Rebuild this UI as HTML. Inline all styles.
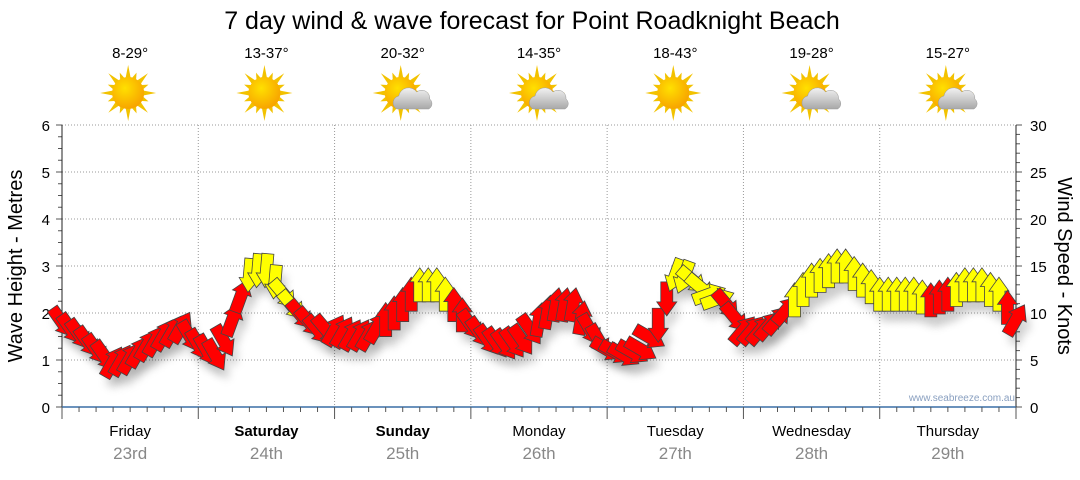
<!DOCTYPE html>
<html><head><meta charset="utf-8"><style>
body{margin:0;background:#fff;font-family:"Liberation Sans",sans-serif}
svg text{font-family:"Liberation Sans",sans-serif}
</style></head><body>
<svg id="c" width="1080" height="475" viewBox="0 0 1080 475">
<defs>
<radialGradient id="sunG" cx="40%" cy="35%" r="70%"><stop offset="0" stop-color="#ffe000"/><stop offset="1" stop-color="#f7a000"/></radialGradient>
<linearGradient id="cloudG" x1="0" y1="0" x2="0" y2="1"><stop offset="0" stop-color="#f2f2f2"/><stop offset="1" stop-color="#a8a8a8"/></linearGradient>
<filter id="sh" x="-50%" y="-50%" width="200%" height="200%"><feGaussianBlur stdDeviation="4"/></filter>
</defs>
<text x="532" y="29" font-size="25" text-anchor="middle" fill="#000">7 day wind &amp; wave forecast for Point Roadknight Beach</text>
<g id="grid"></g><g id="axes"></g><g id="icons"></g><g id="shadows"></g><g id="arrows"></g>
<text x="1015" y="401" font-size="10" text-anchor="end" fill="#8aa0c0">www.seabreeze.com.au</text>
<text transform="translate(22,266) rotate(-90)" font-size="20" text-anchor="middle">Wave Height - Metres</text>
<text transform="translate(1058,266) rotate(90)" font-size="20" text-anchor="middle">Wind Speed - Knots</text>
</svg>
<script>
const days=["Friday","Saturday","Sunday","Monday","Tuesday","Wednesday","Thursday"];
const dates=["23rd","24th","25th","26th","27th","28th","29th"];
const boldDays=[false,true,true,false,false,false,false];
const temps=["8-29°","13-37°","20-32°","14-35°","18-43°","19-28°","15-27°"];
const cloudy=[false,false,true,true,false,true,true];
const waveTicks=[0,1,2,3,4,5,6];
const windTicks=[0,5,10,15,20,25,30];
const stepHours=1.5;
const speeds=[9,8.3,7.7,6.9,6.1,5.4,4.8,5.0,5.2,5.9,
6.6,7.1,7.7,8.1,8.5,7.5,6.6,6.0,5.5,7.0,
9.3,11.8,14,14.5,14.5,13.3,12,10.8,9.8,9.0,
8.2,8.2,8.2,8.0,7.7,7.7,7.7,8.5,9.3,10.0,
10.9,12.0,13,13,13,12,10.9,9.8,8.7,7.9,
7.1,6.8,6.6,6.8,7.1,8.2,9.3,10.1,10.9,10.9,
10.9,9.5,8.2,7.1,6.1,5.8,5.5,5.8,6.1,7.4,
8.7,11.5,14,13.8,13.5,12.7,12,11.5,10.9,9.5,
8.2,8.2,8.2,8.7,9.3,10.3,11.4,12.5,13.5,14,
14.5,15,15,14.2,13.5,12.8,12,12,12,12,
12,11.7,11.4,11.7,12,12.5,13,13,13,12.5,
12,10.6,9.3];
const dirs=[145,145,145,145,145,145,
30,30,30,30,30,30,30,30,30,
150,150,150,150,150,
20,20,
185,185,185,185,
140,140,140,140,140,140,
30,30,30,30,30,30,
0,0,0,0,0,0,0,0,0,0,
145,145,145,145,145,145,145,145,
10,10,10,10,10,10,
150,150,
120,120,120,120,120,120,
180,180,200,200,130,130,70,70,140,140,
40,40,40,40,40,40,
0,0,0,0,0,0,0,0,0,0,0,0,0,0,0,0,0,0,0,0,0,0,0,0,0,0,
30];
const colors=["r","r","r","r","r","r","r","r","r","r","r","r","r","r","r","r","r","r","r","r","r","r",
"y","y","y","y","y","y",
"r","r","r","r","r","r","r","r","r","r","r","r","r","r",
"y","y","y","y",
"r","r","r","r","r","r","r","r","r","r","r","r","r","r","r","r","r","r","r","r","r","r","r","r","r","r",
"y","y","y","y","y","y",
"r","r","r","r","r","r","r","r",
"y","y","y","y","y","y","y","y","y","y","y","y","y","y","y","y",
"r","r","r",
"y","y","y","y","y","y",
"r","r"];
const NS="http://www.w3.org/2000/svg";
const X0=62,X1=1016,Y0=407,Y1=125;
const xh=h=>X0+h/168*(X1-X0);
const yw=m=>Y0-m/6*(Y0-Y1);
const yk=k=>Y0-k/30*(Y0-Y1);
function mk(t,a,p){const e=document.createElementNS(NS,t);for(const k in a)e.setAttribute(k,a[k]);(p||document.getElementById('c')).appendChild(e);return e;}
const G=document.getElementById('grid'),A=document.getElementById('axes'),I=document.getElementById('icons');
for(const t of waveTicks){if(t>0){const g=mk('line',{x1:X0,x2:X1,y1:yw(t),y2:yw(t),stroke:'#999','stroke-dasharray':'1,2'},G);}
 const l=mk('text',{x:50,y:yw(t)+6,'font-size':15,'text-anchor':'end',fill:'#000'},A);l.textContent=t;}
for(const t of windTicks){const l=mk('text',{x:1030,y:yk(t)+6,'font-size':15,fill:'#000'},A);l.textContent=t;}
for(let i=0;i<=24;i++){const y=yw(i/4);mk('line',{x1:i%4?X0-4:X0-6,x2:X0,y1:y,y2:y,stroke:'#555'},A);}
for(let i=0;i<=30;i++){const y=yk(i);mk('line',{x1:X1,x2:i%5?X1+4:X1+6,y1:y,y2:y,stroke:'#555'},A);}
mk('line',{x1:X0,x2:X0,y1:Y1,y2:Y0,stroke:'#222'},A);
mk('line',{x1:X1,x2:X1,y1:Y1,y2:Y0,stroke:'#222'},A);
mk('line',{x1:X0,x2:X1,y1:Y0,y2:Y0,stroke:'#3a6ea5','stroke-width':1.5},A);
for(let h=0;h<=168;h+=3){const x=xh(h);mk('line',{x1:x,x2:x,y1:Y0,y2:Y0+(h%24?5:12),stroke:'#555'},A);}
days.forEach((d,i)=>{
 const cx=xh(i*24+12);
 if(i>0){const g=mk('line',{x1:xh(i*24),x2:xh(i*24),y1:Y1,y2:Y0,stroke:'#999','stroke-dasharray':'1,2'},G);}
 const t=mk('text',{x:cx,y:436,'font-size':15,'text-anchor':'middle','font-weight':boldDays[i]?'bold':'normal'},A);t.textContent=d;
 const dt=mk('text',{x:cx,y:459,'font-size':17,'text-anchor':'middle',fill:'#888'},A);dt.textContent=dates[i];
 const tp=mk('text',{x:cx,y:58,'font-size':15,'text-anchor':'middle'},I);tp.textContent=temps[i];
 const ic=mk('g',{transform:`translate(${cx-2},93)`},I);
 for(let r=0;r<16;r++){const a=r*22.5*Math.PI/180,L=r%2?22:28;mk('polygon',{points:`${Math.cos(a)*L},${Math.sin(a)*L} ${Math.cos(a+0.2)*14},${Math.sin(a+0.2)*14} ${Math.cos(a-0.2)*14},${Math.sin(a-0.2)*14}`,fill:'#f2c200'},ic);}
 mk('circle',{r:16,fill:'url(#sunG)'},ic);
 if(cloudy[i]){mk('path',{d:'M-4,16 a7,7 0 0 1 2,-13 a10,10 0 0 1 18,-4 a8,8 0 0 1 13,7 a6,6 0 0 1 -1,10 z',fill:'url(#cloudG)',stroke:'#999','stroke-width':0.5},ic);}
});
const S=document.getElementById('shadows'),AR=document.getElementById('arrows');
const shape="-6,17 6,17 6,-3 10,-3 0,-17 -10,-3 -6,-3";
speeds.forEach((v,i)=>{
 const x=xh(i*stepHours),y=yk(v);
 const sh=mk('polygon',{points:shape,fill:'rgba(0,0,0,0.15)',filter:'url(#sh)',transform:`translate(${x+5},${y+10}) rotate(${dirs[i]})`},S);
 
 
 const p=mk('polygon',{points:shape,fill:colors[i]=='y'?'#ffff00':'#ff0000',stroke:'#444','stroke-width':0.8,transform:`translate(${x},${y}) rotate(${dirs[i]})`},AR);
 
 
});
</script>
</body></html>
